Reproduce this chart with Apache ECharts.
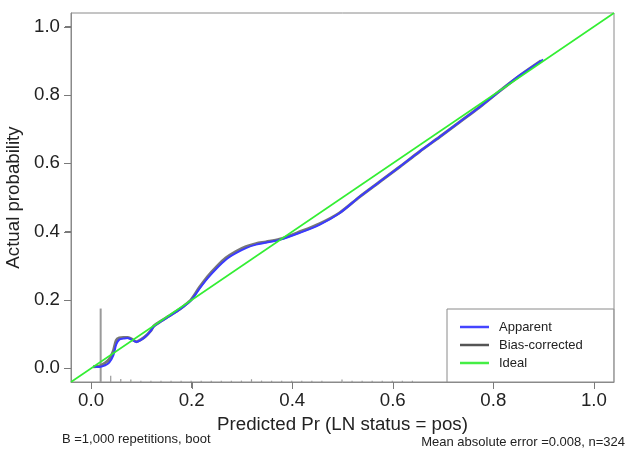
<!DOCTYPE html>
<html>
<head>
<meta charset="utf-8">
<script src="https://cdn.jsdelivr.net/npm/echarts@6/dist/echarts.min.js"></script>
<style>
html,body{margin:0;padding:0;background:#fff;}
#chart{width:628px;height:449px;}
</style>
</head>
<body>
<div id="chart"></div>
<script>
// ---- data ----
var apparentX = [0.004,0.016,0.028,0.036,0.044,0.050,0.056,0.064,0.072,0.080,0.090,0.100,0.109,0.118,0.125,0.140,0.155,0.170,0.185,0.199,0.215,0.232,0.250,0.268,0.288,0.308,0.328,0.348,0.375,0.414,0.454,0.494,0.534,0.574,0.614,0.653,0.693,0.733,0.773,0.813,0.853,0.899];
var apparentY = [0.005,0.004,0.009,0.017,0.037,0.070,0.084,0.087,0.089,0.085,0.077,0.084,0.094,0.108,0.123,0.138,0.152,0.166,0.182,0.199,0.232,0.264,0.293,0.318,0.337,0.352,0.362,0.368,0.376,0.396,0.420,0.454,0.502,0.546,0.590,0.634,0.677,0.721,0.765,0.812,0.858,0.904];
var biasX = [0.004,0.016,0.028,0.036,0.044,0.050,0.056,0.064,0.072,0.080,0.090,0.100,0.109,0.118,0.125,0.140,0.155,0.170,0.185,0.199,0.215,0.232,0.250,0.268,0.288,0.308,0.328,0.348,0.375,0.414,0.454,0.494,0.534,0.574,0.614,0.653,0.693,0.733,0.773,0.813,0.853,0.895];
var biasY = [0.005,0.006,0.016,0.026,0.050,0.082,0.089,0.090,0.090,0.086,0.078,0.085,0.095,0.109,0.124,0.139,0.153,0.167,0.183,0.201,0.236,0.269,0.298,0.323,0.342,0.356,0.365,0.370,0.378,0.399,0.423,0.455,0.502,0.546,0.590,0.634,0.677,0.721,0.765,0.812,0.857,0.900];
var idealX = [-0.04, 1.04];
var idealY = [-0.04, 1.04];
var spikeX = [0.019,0.039,0.059,0.079,0.099,0.119,0.139,0.159,0.179,0.199,0.219,0.239,0.259,0.279,0.299,0.319,0.339,0.359,0.379,0.399,0.419,0.439,0.459,0.499,0.519,0.539,0.559,0.579,0.599,0.619,0.639];
var spikeH = [0.215,0.018,0.009,0.007,0.004,0.004,0.004,0.004,0.004,0.004,0.004,0.004,0.004,0.004,0.004,0.008,0.004,0.004,0.004,0.004,0.004,0.004,0.004,0.007,0.004,0.004,0.004,0.004,0.004,0.004,0.004];
var tickValues = [0, 0.2, 0.4, 0.6, 0.8, 1.0];
var axisMin = -0.04, axisMax = 1.04;
var xTitle = 'Predicted Pr (LN status = pos)';
var yTitle = 'Actual probability';
var noteLeft = 'B =1,000 repetitions, boot';
var noteRight = 'Mean absolute error =0.008, n=324';

// ---- chart ----
function pairs(xs, ys){ return xs.map(function(x,i){ return [x, ys[i]]; }); }
var FONT = '"Liberation Sans", Arial, Helvetica, sans-serif';
var TICK = '#7a7a7a';
var chart = echarts.init(document.getElementById('chart'), null, {renderer:'canvas'});
function axisCommon(){
  return {
    type:'value', min:axisMin, max:axisMax,
    axisLine:{show:true, onZero:false, lineStyle:{color:'#8a8a8a', width:1}},
    splitLine:{show:false},
    axisTick:{show:true, inside:false, length:6, customValues:tickValues, lineStyle:{color:TICK, width:1}},
    axisLabel:{customValues:tickValues, color:'#222', fontSize:18.7, fontFamily:FONT,
      formatter:function(v){ return (+v).toFixed(1); }},
    nameLocation:'middle',
    nameTextStyle:{color:'#222', fontSize:18.7, fontFamily:FONT}
  };
}
var xa = axisCommon(); xa.name = xTitle; xa.nameGap = 31; xa.axisLabel.margin = 9;
var ya = axisCommon(); ya.name = yTitle; ya.nameGap = 44; ya.axisLabel.margin = 11;

var option = {
  animation:false,
  backgroundColor:'#fff',
  grid:{left:71, top:13, right:14, bottom:67, containLabel:false, outerBoundsMode:'none',
    show:true, borderColor:'#8a8a8a', borderWidth:1, backgroundColor:'transparent'},
  xAxis: xa,
  yAxis: ya,
  legend:{
    orient:'vertical', left:447, top:309,
    padding:[9,31,10,13], itemGap:0,
    itemWidth:29, itemHeight:2.5,
    borderColor:'#8a8a8a', borderWidth:1, backgroundColor:'#fff',
    textStyle:{color:'#222', fontSize:13, fontFamily:FONT, lineHeight:18, padding:[0,0,0,5]},
    data:[
      {name:'Apparent', icon:'rect', itemStyle:{color:'#4444ff'}},
      {name:'Bias-corrected', icon:'rect', itemStyle:{color:'#555555'}},
      {name:'Ideal', icon:'rect', itemStyle:{color:'#44ee44'}}
    ]
  },
  series:[
    {
      name:'spikes', type:'custom', silent:true, z:1,
      data: pairs(spikeX, spikeH),
      renderItem:function(params, api){
        var x = api.value(0), h = api.value(1);
        var p0 = api.coord([x, axisMin]);
        var p1 = api.coord([x, axisMin + h]);
        return {type:'line', shape:{x1:p0[0], y1:p0[1], x2:p1[0], y2:p1[1]},
          style:{stroke:'#9a9a9a', lineWidth: h > 0.1 ? 2 : 1.2}};
      }
    },
    {
      name:'Bias-corrected', type:'line', z:2, data:pairs(biasX, biasY),
      showSymbol:false, smooth:0.3, lineStyle:{color:'#777777', width:3}, itemStyle:{color:'#555555'}
    },
    {
      name:'Apparent', type:'line', z:3, data:pairs(apparentX, apparentY),
      showSymbol:false, smooth:0.3, lineStyle:{color:'#3a3aff', width:2}, itemStyle:{color:'#4444ff'}
    },
    {
      name:'Ideal', type:'line', z:4, data:pairs(idealX, idealY),
      showSymbol:false, lineStyle:{color:'#33ee33', width:1.6}, itemStyle:{color:'#44ee44'}
    }
  ],
  graphic:[
    {type:'text', left:62, top:433, style:{text:noteLeft, font:'13px '+FONT, fill:'#222'}},
    {type:'text', right:3, top:436, style:{text:noteRight, font:'13px '+FONT, fill:'#222'}}
  ]
};
chart.setOption(option);

// R-style outside tick marks, positioned through the chart's own scales
var tickGraphics = [];
tickValues.forEach(function(v){
  var px = chart.convertToPixel({gridIndex:0}, [v, axisMin]);
  var py = chart.convertToPixel({gridIndex:0}, [axisMin, v]);
  var xx = Math.round(px[0]) + 0.5, yy = Math.round(py[1]) + 0.5;
  tickGraphics.push({type:'line', silent:true, z:10,
    shape:{x1:xx, y1:px[1], x2:xx, y2:px[1] + 7}, style:{stroke:TICK, lineWidth:1}});
  tickGraphics.push({type:'line', silent:true, z:10,
    shape:{x1:py[0] - 7, y1:yy, x2:py[0], y2:yy}, style:{stroke:TICK, lineWidth:1}});
});
chart.setOption({graphic: option.graphic.concat(tickGraphics)});
</script>
</body>
</html>
